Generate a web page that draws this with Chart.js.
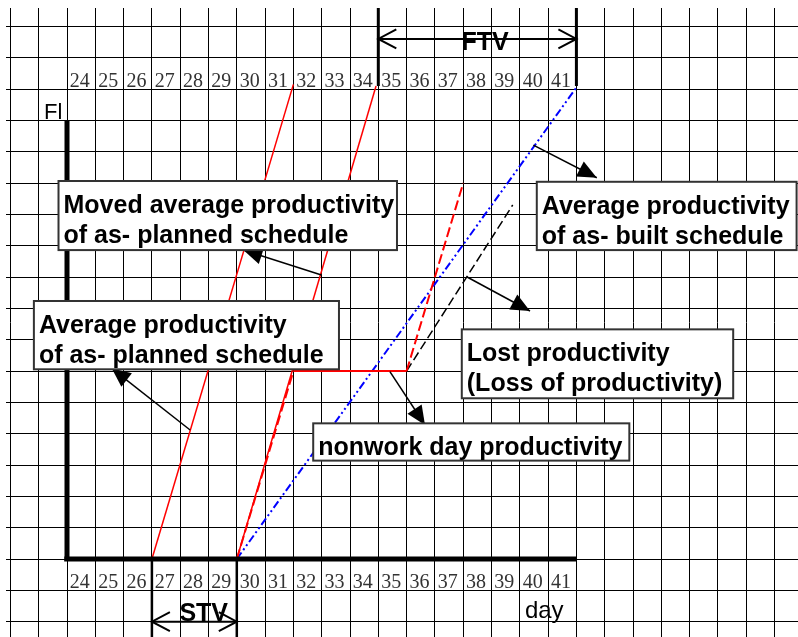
<!DOCTYPE html>
<html lang="en">

<head>
    <meta charset="UTF-8" />
    <title>STV / FTV productivity chart</title>
    <script src="https://cdn.jsdelivr.net/npm/chart.js"></script>
    <style>
        body { margin: 0; background: #fff; overflow: hidden; }
    </style>
</head>

<body>
    <canvas id="chart" width="798" height="637"></canvas>

    <script>
        // day tick labels (top and bottom rows)
        const days = [24, 25, 26, 27, 28, 29, 30, 31, 32, 33, 34, 35, 36, 37, 38, 39, 40, 41];

        // average productivity of as-planned schedule
        const plannedX = [27, 32];
        const plannedY = [0, 15.15];
        // moved average productivity of as-planned schedule
        const movedX = [30, 34.92];
        const movedY = [0, 15.1];
        // as-built progress (with nonwork days)
        const builtX = [30, 32, 36, 38];
        const builtY = [0, 6, 6, 12];
        // average productivity of as-built schedule
        const builtAvgX = [30, 42];
        const builtAvgY = [0, 15.05];
        // lost productivity
        const lostX = [36, 39.75];
        const lostY = [6, 11.3];

        const stvDays = [27, 30];
        const ftvDays = [35, 42];

        function pts(xs, ys) {
            return xs.map((x, i) => ({ x: x, y: ys[i] }));
        }

        // callout boxes, in data units (left, top, right, bottom)
        const boxes = [
            { r: [23.70, 12.065, 35.66, 9.86], lines: ['Moved average productivity', 'of as- planned schedule'] },
            { r: [40.60, 12.04, 49.78, 9.86], lines: ['Average productivity', 'of as- built schedule'] },
            { r: [22.83, 8.235, 33.61, 6.055], lines: ['Average productivity', 'of as- planned schedule'] },
            { r: [37.95, 7.33, 47.54, 5.13], lines: ['Lost productivity', '(Loss of productivity)'] },
            { r: [32.70, 4.33, 43.87, 3.14], lines: ['nonwork day productivity'] }
        ];
        // arrows: from point on line -> tip
        const arrows = [
            [32.99, 9.065, 30.23, 9.863],
            [28.35, 4.117, 25.58, 6.087],
            [40.48, 13.21, 42.72, 12.17],
            [38.12, 9.01, 40.36, 7.915],
            [35.41, 5.98, 36.65, 4.277]
        ];

        function arrowHead(c, x1, y1, x2, y2, len, half) {
            const a = Math.atan2(y2 - y1, x2 - x1);
            c.beginPath();
            c.moveTo(x2, y2);
            c.lineTo(x2 - len * Math.cos(a) + half * Math.sin(a), y2 - len * Math.sin(a) - half * Math.cos(a));
            c.lineTo(x2 - len * Math.cos(a) - half * Math.sin(a), y2 - len * Math.sin(a) + half * Math.cos(a));
            c.closePath();
            c.fill();
        }

        function chevron(c, x, y, dir) {
            c.beginPath();
            c.moveTo(x + dir * 18, y - 9.5);
            c.lineTo(x, y);
            c.lineTo(x + dir * 18, y + 9.5);
            c.stroke();
        }

        const drawing = {
            id: 'drawing',
            afterDatasetsDraw(chart) {
                const c = chart.ctx;
                const X = v => chart.scales.x.getPixelForValue(v);
                const Y = v => chart.scales.y.getPixelForValue(v);
                c.save();
                c.strokeStyle = '#000';
                c.fillStyle = '#000';

                // main axes
                c.lineWidth = 5;
                c.beginPath();
                c.moveTo(X(24), Y(14));
                c.lineTo(X(24), Y(0));
                c.moveTo(X(23.9), Y(0));
                c.lineTo(X(42), Y(0));
                c.stroke();

                // STV bracket
                c.lineWidth = 2.5;
                c.beginPath();
                stvDays.forEach(d => { c.moveTo(X(d), Y(0)); c.lineTo(X(d), Y(-2.49)); });
                c.stroke();
                c.lineWidth = 2;
                c.beginPath();
                c.moveTo(X(stvDays[0]), Y(-2));
                c.lineTo(X(stvDays[1]), Y(-2));
                c.stroke();
                chevron(c, X(stvDays[0]), Y(-2), 1);
                chevron(c, X(stvDays[1]), Y(-2), -1);

                // FTV bracket
                c.lineWidth = 3;
                c.beginPath();
                ftvDays.forEach(d => { c.moveTo(X(d), Y(15.1)); c.lineTo(X(d), Y(17.59)); });
                c.stroke();
                c.lineWidth = 2;
                c.beginPath();
                c.moveTo(X(ftvDays[0]), Y(16.6));
                c.lineTo(X(ftvDays[1]), Y(16.6));
                c.stroke();
                chevron(c, X(ftvDays[0]), Y(16.6), 1);
                chevron(c, X(ftvDays[1]), Y(16.6), -1);

                // day labels
                c.fillStyle = '#333';
                c.font = '20px "Liberation Serif", "DejaVu Serif", serif';
                c.textAlign = 'left';
                c.textBaseline = 'alphabetic';
                days.forEach(d => {
                    c.fillText(String(d), X(d + 0.1), Y(15.08));
                    c.fillText(String(d), X(d + 0.1), Y(-0.92));
                });

                c.fillStyle = '#000';
                c.font = '22px "Liberation Sans", Arial, sans-serif';
                c.fillText('Fl', X(23.19), Y(14.04));
                c.font = '24px "Liberation Sans", Arial, sans-serif';
                c.fillText('day', X(40.18), Y(-1.88));

                c.font = 'bold 25px "Liberation Sans", Arial, sans-serif';
                c.textAlign = 'center';
                c.fillText('FTV', X(38.77), Y(16.25));
                c.fillText('STV', X(28.83), Y(-1.99));

                // arrows
                c.lineWidth = 1.5;
                arrows.forEach(a => {
                    const x1 = X(a[0]), y1 = Y(a[1]), x2 = X(a[2]), y2 = Y(a[3]);
                    c.beginPath();
                    c.moveTo(x1, y1);
                    c.lineTo(x2, y2);
                    c.stroke();
                    arrowHead(c, x1, y1, x2, y2, 19, 8.5);
                });

                // callout boxes
                c.textAlign = 'left';
                boxes.forEach(b => {
                    const l = X(b.r[0]), t = Y(b.r[1]), r = X(b.r[2]), btm = Y(b.r[3]);
                    c.fillStyle = '#fff';
                    c.fillRect(l, t, r - l, btm - t);
                    c.strokeStyle = '#333';
                    c.lineWidth = 2;
                    c.strokeRect(l, t, r - l, btm - t);
                    c.fillStyle = '#000';
                    c.font = 'bold 25px "Liberation Sans", Arial, sans-serif';
                    b.lines.forEach((txt, i) => c.fillText(txt, l + 5, t + 32 + i * 30));
                });

                c.restore();
            }
        };

        const gridColor = ctx => Number.isInteger(ctx.tick.value) ? '#000' : 'rgba(0,0,0,0)';

        const chart = new Chart(document.getElementById('chart').getContext('2d'), {
            type: 'scatter',
            data: {
                datasets: [
                    {
                        label: 'Average productivity of as-planned schedule',
                        data: pts(plannedX, plannedY),
                        showLine: true, borderColor: '#ff0000', borderWidth: 1.5, pointRadius: 0
                    },
                    {
                        label: 'Moved average productivity of as-planned schedule',
                        data: pts(movedX, movedY),
                        showLine: true, borderColor: '#ff0000', borderWidth: 1.5, pointRadius: 0
                    },
                    {
                        label: 'As-built',
                        data: pts(builtX, builtY),
                        showLine: true, borderColor: '#ff0000', borderWidth: 2, pointRadius: 0,
                        segment: {
                            borderDash: ctx => ctx.p0DataIndex === 1 ? [] : [10, 4]
                        }
                    },
                    {
                        label: 'Average productivity of as-built schedule',
                        data: pts(builtAvgX, builtAvgY),
                        showLine: true, borderColor: '#0000ff', borderWidth: 2, pointRadius: 0,
                        borderDash: [8, 3, 2, 3, 2, 3]
                    },
                    {
                        label: 'Lost productivity',
                        data: pts(lostX, lostY),
                        showLine: true, borderColor: '#000', borderWidth: 1.5, pointRadius: 0,
                        borderDash: [9, 4]
                    }
                ]
            },
            options: {
                responsive: false,
                animation: false,
                layout: { padding: { left: 6, top: 8, right: 0, bottom: 0 } },
                plugins: {
                    legend: { display: false },
                    tooltip: { enabled: false }
                },
                scales: {
                    x: {
                        type: 'linear',
                        min: 21.8445,
                        max: 49.83,
                        afterFit: s => { s.height = 0; },
                        border: { display: false },
                        grid: { color: gridColor, lineWidth: 1, drawTicks: false },
                        ticks: { display: false, stepSize: 1, includeBounds: false }
                    },
                    y: {
                        type: 'linear',
                        min: -2.4896,
                        max: 17.587,
                        afterFit: s => { s.width = 0; },
                        border: { display: false },
                        grid: { color: gridColor, lineWidth: 1, drawTicks: false },
                        ticks: { display: false, stepSize: 1, includeBounds: false }
                    }
                }
            },
            plugins: [drawing]
        });
    </script>
</body>

</html>
